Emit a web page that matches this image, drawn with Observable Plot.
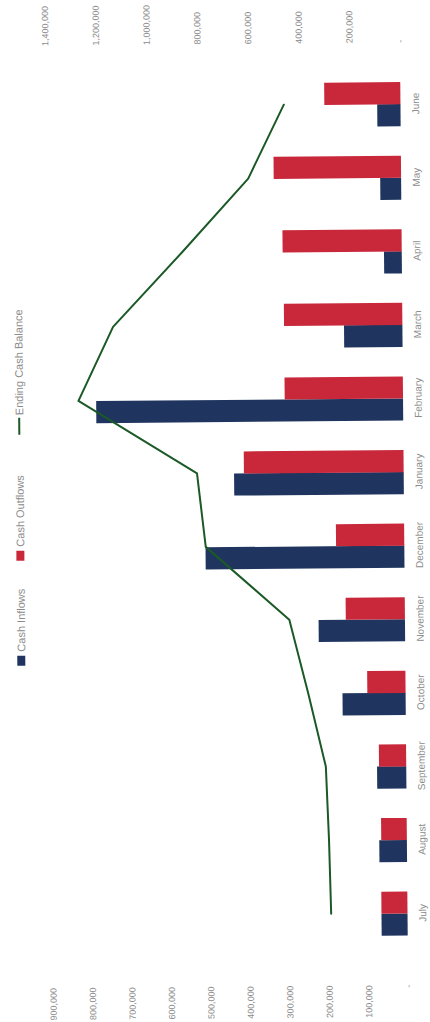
<!DOCTYPE html>
<html>
<head>
<meta charset="utf-8">
<script src="https://cdn.jsdelivr.net/npm/d3@7"></script>
<script src="https://cdn.jsdelivr.net/npm/@observablehq/plot@0.6"></script>
<style>
  html, body { margin: 0; padding: 0; background: #fff; overflow: hidden; width: 430px; height: 1022px; }
  /* landscape page, turned a quarter turn to sit upright in the portrait window */
  #page {
    position: absolute; left: -296px; top: 296px; width: 1022px; height: 430px;
    transform: rotate(-90.5deg); transform-origin: 511px 215px;
    font-family: "Liberation Sans", Arial, sans-serif; color: #8c8c8c;
  }
  #legend { position: absolute; top: 14px; left: 358px; display: flex; align-items: center; font-size: 11px; line-height: 12px; }
  #legend .item { display: flex; align-items: center; }
  #legend .sw { width: 10px; height: 8px; margin-right: 4px; }
  #legend .ln { width: 17px; height: 2px; margin-right: 3px; }
  #chart { position: absolute; left: 0; top: 0; }
</style>
</head>
<body>
<div id="page">
  <div id="chart"></div>
  <div id="legend"></div>
</div>
<script>
// Monthly cash flow, fiscal year July to June
const months = ["July", "August", "September", "October", "November", "December",
                "January", "February", "March", "April", "May", "June"];
const cashInflows  = [66000, 70000, 74000, 160000, 219000, 504000, 430000, 778000, 148000, 45000, 53000, 59000];
const cashOutflows = [66000, 65000, 69000, 97000, 150000, 173000, 405000, 300000, 300000, 302000, 323000, 193000];
const endingCashBalance = [303000, 309000, 319000, 386000, 458000, 785000, 817000, 1282000, 1143000, 870000, 605000, 462000];

// Axis ticks: flows on the left axis, balance on the right axis
const flowTicks = [0, 100000, 200000, 300000, 400000, 500000, 600000, 700000, 800000, 900000];
const balanceTicks = [0, 200000, 400000, 600000, 800000, 1000000, 1200000, 1400000];

const seriesNames = ["Cash Inflows", "Cash Outflows", "Ending Cash Balance"];
const colors = {inflow: "#1f355f", outflow: "#c9283b", balance: "#1b5a27"};

const flowMax = 900000, balanceMax = 1400000;
const ratio = flowMax / balanceMax; // balance units -> flow axis units

const rows = months.map((m, i) => ({
  month: m, inflow: cashInflows[i], outflow: cashOutflows[i], balance: endingCashBalance[i]
}));

const fmt = v => v === 0 ? "-" : d3.format(",")(v);

const chart = Plot.plot({
  width: 1022,
  height: 430,
  marginTop: 49,
  marginBottom: 26,
  marginLeft: 70,
  marginRight: 69,
  style: {fontFamily: '"Liberation Sans", Arial, sans-serif', fontSize: "9px", color: "#8c8c8c", background: "transparent"},
  x: {domain: months, paddingInner: 0.4, paddingOuter: 0.2, round: false, label: null},
  y: {domain: [0, flowMax], label: null},
  marks: [
    Plot.barY(rows, {x: "month", y: "inflow", fill: colors.inflow, insetRight: 22}),
    Plot.barY(rows, {x: "month", y: "outflow", fill: colors.outflow, insetLeft: 22}),
    Plot.lineY(rows, {x: "month", y: d => d.balance * ratio, stroke: colors.balance, strokeWidth: 2}),
    Plot.axisX({tickSize: 0, tickPadding: 11, fontSize: 10, label: null}),
    Plot.axisY({anchor: "left", ticks: flowTicks, tickSize: 0, tickPadding: 35, tickFormat: fmt, label: null}),
    Plot.axisY({anchor: "right", ticks: balanceTicks.map(v => v * ratio), tickSize: 0, tickPadding: 24,
                tickFormat: y => fmt(Math.round(y / ratio)), label: null})
  ]
});
document.getElementById("chart").append(chart);

// Legend row
const legend = document.getElementById("legend");
const kinds = ["bar", "bar", "line"];
const swatchColors = [colors.inflow, colors.outflow, colors.balance];
const gaps = [28, 40, 0];
seriesNames.forEach((name, i) => {
  const item = document.createElement("div");
  item.className = "item";
  item.style.marginRight = gaps[i] + "px";
  const sw = document.createElement("span");
  sw.className = kinds[i] === "bar" ? "sw" : "ln";
  sw.style.background = swatchColors[i];
  const label = document.createElement("span");
  label.textContent = name;
  item.append(sw, label);
  legend.append(item);
});
</script>
</body>
</html>
